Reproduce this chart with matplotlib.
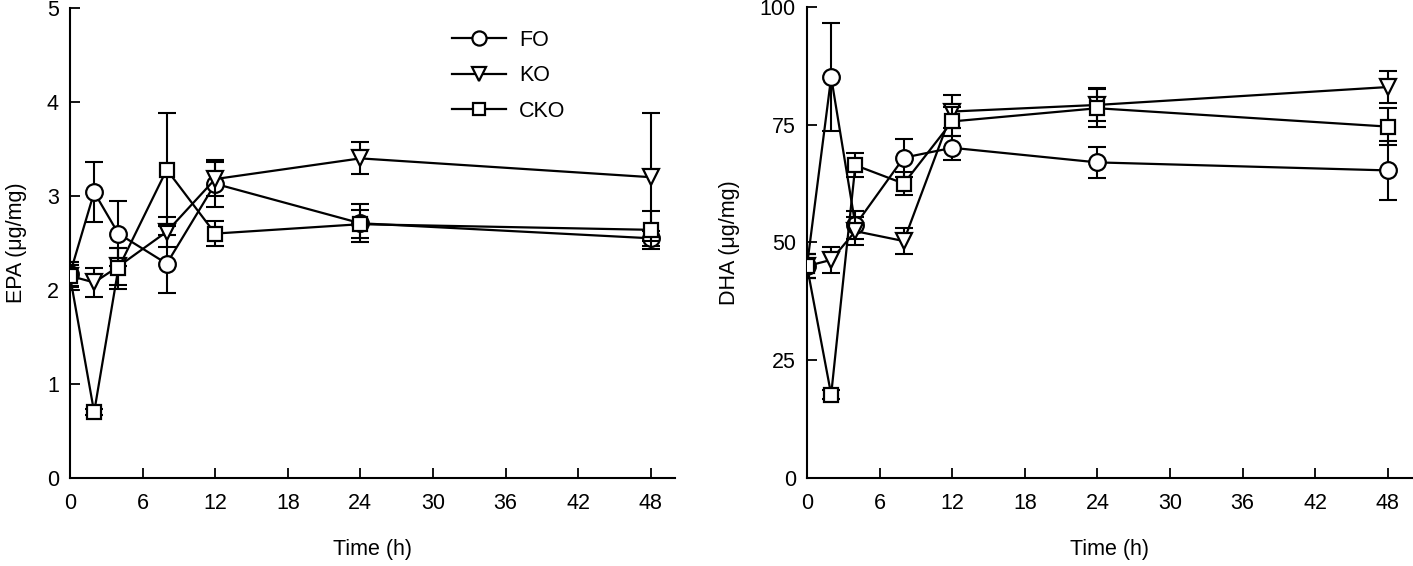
import numpy as np
import matplotlib
matplotlib.use('Agg')
import matplotlib.pyplot as plt

plt.rcParams['font.family'] = ['Liberation Sans', 'DejaVu Sans']

# sampling times (h)
time_h = [0, 2, 4, 8, 12, 24, 48]
groups = ['FO', 'KO', 'CKO']
markers = {'FO': 'o', 'KO': 'v', 'CKO': 's'}
msizes = {'FO': 12, 'KO': 12, 'CKO': 10.5}

# EPA (ug/mg), mean and error
epa_fo = [2.17, 3.04, 2.60, 2.28, 3.13, 2.71, 2.55]
epa_fo_err = [0.13, 0.32, 0.35, 0.31, 0.25, 0.20, 0.08]
epa_ko = [2.15, 2.08, 2.25, 2.62, 3.18, 3.40, 3.20]
epa_ko_err = [0.12, 0.15, 0.20, 0.16, 0.18, 0.17, 0.68]
epa_cko = [2.15, 0.70, 2.23, 3.28, 2.60, 2.70, 2.64]
epa_cko_err = [0.15, 0.03, 0.22, 0.60, 0.13, 0.15, 0.20]

# DHA (ug/mg), mean and error
dha_fo = [45.0, 85.1, 53.7, 68.0, 70.1, 67.0, 65.3]
dha_fo_err = [2.5, 11.5, 3.0, 4.0, 2.5, 3.3, 6.3]
dha_ko = [45.0, 46.3, 52.4, 50.3, 77.8, 79.2, 83.0]
dha_ko_err = [2.5, 2.7, 3.0, 2.7, 3.5, 3.5, 3.3]
dha_cko = [45.0, 17.7, 66.4, 62.5, 75.7, 78.5, 74.6]
dha_cko_err = [2.5, 1.0, 2.5, 2.5, 3.0, 4.0, 4.0]

epa = {'FO': (epa_fo, epa_fo_err), 'KO': (epa_ko, epa_ko_err),
       'CKO': (epa_cko, epa_cko_err)}
dha = {'FO': (dha_fo, dha_fo_err), 'KO': (dha_ko, dha_ko_err),
       'CKO': (dha_cko, dha_cko_err)}

FS = 15.5


def draw_panel(ax, data, ylim, yticks, ylabel):
    for i, g in enumerate(groups):
        y, e = data[g]
        ax.errorbar(time_h, y, yerr=e, fmt='none', ecolor='black',
                    elinewidth=1.5, capsize=6.5, capthick=1.5, zorder=2 + i)
        ax.plot(time_h, y, color='black', lw=1.6, marker=markers[g],
                ms=msizes[g], mfc='white', mec='black', mew=1.6,
                label=g, zorder=2.5 + i)
    ax.set_xlim(0, 50)
    ax.set_ylim(*ylim)
    ax.set_xticks(np.arange(0, 49, 6))
    ax.set_yticks(yticks)
    for side in ['top', 'right']:
        ax.spines[side].set_visible(False)
    for side in ['left', 'bottom']:
        ax.spines[side].set_linewidth(1.5)
    ax.tick_params(direction='in', length=7, width=1.3, labelsize=FS)
    ax.tick_params(axis='x', pad=11)
    ax.tick_params(axis='y', pad=8)
    ax.set_xlabel('Time (h)', fontsize=FS, labelpad=18)
    ax.set_ylabel(ylabel, fontsize=FS, labelpad=14)


fig = plt.figure(figsize=(14.13, 5.66), dpi=100)
ax1 = fig.add_axes([0.0495, 0.1555, 0.4282, 0.8304])
ax2 = fig.add_axes([0.5711, 0.1555, 0.4282, 0.8322])

draw_panel(ax1, epa, (0, 5), [0, 1, 2, 3, 4, 5], 'EPA (\u03bcg/mg)')
draw_panel(ax2, dha, (0, 100), [0, 25, 50, 75, 100], 'DHA (\u03bcg/mg)')

ax1.legend(loc='upper left', bbox_to_anchor=(0.6, 0.995), frameon=False,
           fontsize=FS, handlelength=2.5, labelspacing=0.68,
           markerscale=0.85, handletextpad=0.6)

fig.savefig('out.png', dpi=100)
